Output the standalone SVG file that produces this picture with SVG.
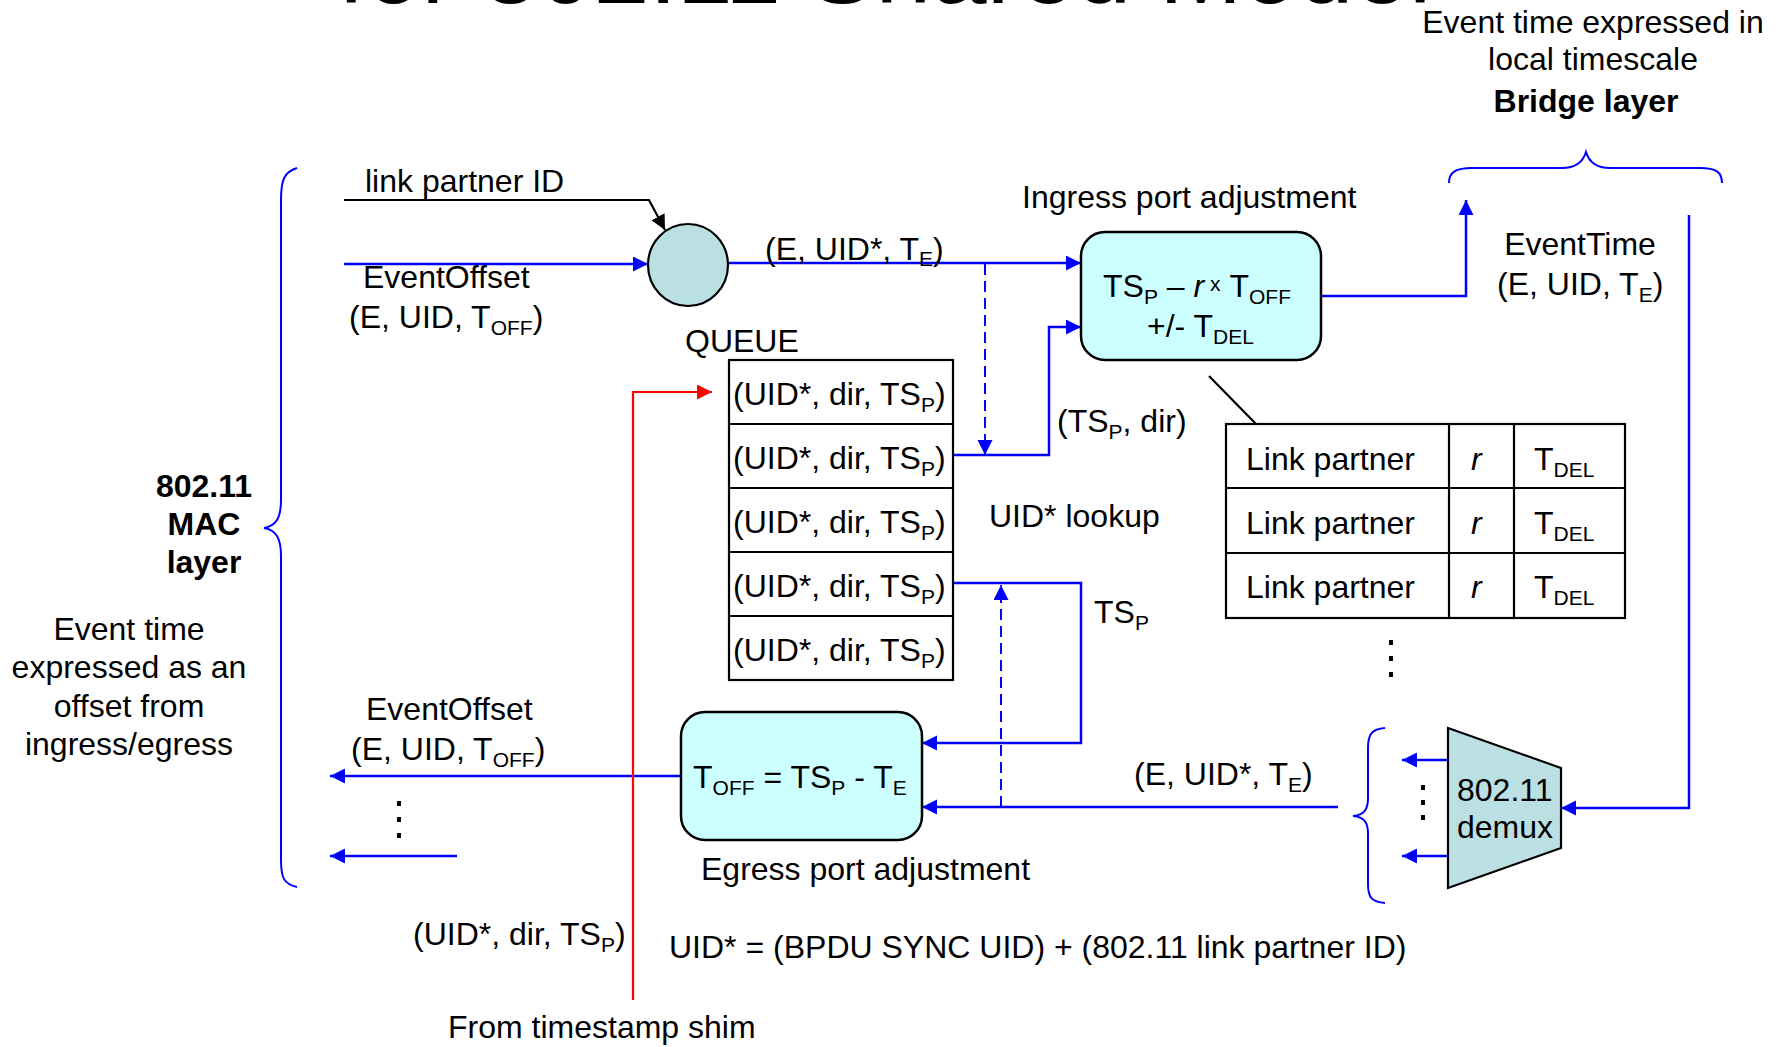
<svg xmlns="http://www.w3.org/2000/svg" width="1779" height="1047" viewBox="0 0 1779 1047">
  <style>
    text { font-family: "Liberation Sans", Arial, sans-serif; font-size: 32px; fill: #000; }
    .b { font-weight: bold; }
    .mid { text-anchor: middle; }
    .sub { font-size: 21px; }
    .title { font-size: 100px; }
    .box { fill: #CCFFFF; stroke: #000; stroke-width: 2.5; }
    .teal { fill: #BBE0E3; stroke: #000; stroke-width: 2.2; }
    .cell { fill: none; stroke: #000; stroke-width: 2.2; }
    .blue { fill: none; stroke: #0000FF; stroke-width: 2.5; }
    .dash { fill: none; stroke: #0000FF; stroke-width: 2; stroke-dasharray: 11 6; }
    .red { fill: none; stroke: #FF0000; stroke-width: 2.2; }
    .black { fill: none; stroke: #000; stroke-width: 2.2; }
    .brace { fill: none; stroke: #0000FF; stroke-width: 2; }
  </style>
  <defs>
    <marker id="ab" markerUnits="userSpaceOnUse" markerWidth="16" markerHeight="16" refX="15" refY="7.5" orient="auto">
      <path d="M0,0 L15,7.5 L0,15 z" fill="#0000FF"/>
    </marker>
    <marker id="ak" markerUnits="userSpaceOnUse" markerWidth="16" markerHeight="16" refX="15" refY="7.5" orient="auto">
      <path d="M0,0 L15,7.5 L0,15 z" fill="#000"/>
    </marker>
    <marker id="ar" markerUnits="userSpaceOnUse" markerWidth="16" markerHeight="16" refX="15" refY="7.5" orient="auto">
      <path d="M0,0 L15,7.5 L0,15 z" fill="#FF0000"/>
    </marker>
  </defs>

  <rect width="1779" height="1047" fill="#fff"/>

  <!-- page heading, running off the top edge -->
  <text class="title" x="338" y="2.5">for 802.11 Shared Model</text>

  <!-- side braces and layer captions -->
  <g id="mac-layer">
    <path class="brace" d="M297,168 C284,172 281,180 281,200 L281,500 C281,518 276,526 264,528 C276,530 281,538 281,556 L281,860 C281,878 284,884 297,887"/>
    <text class="b mid" x="204" y="497">802.11</text>
    <text class="b mid" x="204" y="535">MAC</text>
    <text class="b mid" x="204" y="573">layer</text>
    <text class="mid" x="129" y="640">Event time</text>
    <text class="mid" x="129" y="678">expressed as an</text>
    <text class="mid" x="129" y="717">offset from</text>
    <text class="mid" x="129" y="755">ingress/egress</text>
  </g>

  <g id="bridge-layer">
    <path class="brace" d="M1449,183 C1449,172 1456,168 1472,168 L1562,168 C1576,168 1583,162 1586,152 C1589,162 1596,168 1610,168 L1700,168 C1716,168 1722,172 1722,183"/>
    <text class="mid" x="1593" y="33">Event time expressed in</text>
    <text class="mid" x="1593" y="70">local timescale</text>
    <text class="b mid" x="1586" y="112">Bridge layer</text>
  </g>

  <g id="demux-brace">
    <path class="brace" d="M1385,728 C1372,729 1368,734 1368,748 L1368,798 C1368,810 1364,815 1353,816 C1364,817 1368,822 1368,834 L1368,884 C1368,898 1372,902 1385,903"/>
  </g>

  <!-- connectors -->
  <g id="connectors">
    <polyline class="black" points="344,200 649,200 665,230" marker-end="url(#ak)"/>
    <line class="blue" x1="344" y1="264" x2="648" y2="264" marker-end="url(#ab)"/>
    <line class="blue" x1="729" y1="263" x2="1081" y2="263" marker-end="url(#ab)"/>
    <line class="dash" x1="985" y1="264" x2="985" y2="455" marker-end="url(#ab)"/>
    <polyline class="blue" points="953,455 1049,455 1049,327 1081,327" marker-end="url(#ab)"/>
    <polyline class="blue" points="1321,296 1466,296 1466,200" marker-end="url(#ab)"/>
    <polyline class="blue" points="1689,215 1689,808 1561,808" marker-end="url(#ab)"/>
    <line class="blue" x1="1448" y1="760" x2="1402" y2="760" marker-end="url(#ab)"/>
    <line class="blue" x1="1448" y1="856" x2="1402" y2="856" marker-end="url(#ab)"/>
    <line class="blue" x1="1338" y1="807" x2="922" y2="807" marker-end="url(#ab)"/>
    <line class="dash" x1="1001" y1="807" x2="1001" y2="585" marker-end="url(#ab)"/>
    <polyline class="blue" points="953,583 1081,583 1081,743 922,743" marker-end="url(#ab)"/>
    <line class="blue" x1="681" y1="776" x2="330" y2="776" marker-end="url(#ab)"/>
    <line class="blue" x1="457" y1="856" x2="330" y2="856" marker-end="url(#ab)"/>
    <polyline class="red" points="633,1000 633,392 712,392" marker-end="url(#ar)"/>
    <line class="black" x1="1209" y1="376" x2="1256" y2="424" stroke-width="1.6"/>
  </g>

  <!-- combiner of link partner ID and event offset -->
  <g id="uid-combiner">
    <ellipse class="teal" cx="688" cy="265" rx="40" ry="41"/>
  </g>

  <g id="ingress-adjust">
    <rect class="box" x="1081" y="232" width="240" height="128" rx="24"/>
    <text x="1103" y="297">TS<tspan class="sub" dy="7">P</tspan><tspan dy="-7"> – </tspan><tspan font-style="italic">r</tspan><tspan class="sub" dy="-6"> x</tspan><tspan dy="6" dx="9">T</tspan><tspan class="sub" dy="7">OFF</tspan></text>
    <text x="1147" y="337">+/- T<tspan class="sub" dy="7">DEL</tspan></text>
    <text x="1022" y="208">Ingress port adjustment</text>
  </g>

  <g id="egress-adjust">
    <rect class="box" x="681" y="712" width="241" height="128" rx="24"/>
    <text x="693" y="788">T<tspan class="sub" dy="7">OFF</tspan><tspan dy="-7"> = TS</tspan><tspan class="sub" dy="7">P</tspan><tspan dy="-7"> - T</tspan><tspan class="sub" dy="7">E</tspan></text>
    <text x="701" y="880">Egress port adjustment</text>
  </g>

  <g id="queue">
    <text x="685" y="352">QUEUE</text>
    <rect class="cell" x="729" y="360" width="224" height="320"/>
    <line class="cell" x1="729" y1="424" x2="953" y2="424"/>
    <line class="cell" x1="729" y1="488" x2="953" y2="488"/>
    <line class="cell" x1="729" y1="552" x2="953" y2="552"/>
    <line class="cell" x1="729" y1="616" x2="953" y2="616"/>
    <text x="733" y="405">(UID*, dir, TS<tspan class="sub" dy="7">P</tspan><tspan dy="-7">)</tspan></text>
    <text x="733" y="469">(UID*, dir, TS<tspan class="sub" dy="7">P</tspan><tspan dy="-7">)</tspan></text>
    <text x="733" y="533">(UID*, dir, TS<tspan class="sub" dy="7">P</tspan><tspan dy="-7">)</tspan></text>
    <text x="733" y="597">(UID*, dir, TS<tspan class="sub" dy="7">P</tspan><tspan dy="-7">)</tspan></text>
    <text x="733" y="661">(UID*, dir, TS<tspan class="sub" dy="7">P</tspan><tspan dy="-7">)</tspan></text>
  </g>

  <g id="link-partner-table">
    <rect class="cell" x="1226" y="424" width="399" height="194"/>
    <line class="cell" x1="1226" y1="488" x2="1625" y2="488" stroke-width="4"/>
    <line class="cell" x1="1226" y1="553" x2="1625" y2="553" stroke-width="4"/>
    <line class="cell" x1="1449" y1="424" x2="1449" y2="618"/>
    <line class="cell" x1="1514" y1="424" x2="1514" y2="618"/>
    <text x="1246" y="470">Link partner</text>
    <text x="1246" y="534">Link partner</text>
    <text x="1246" y="598">Link partner</text>
    <text x="1471" y="470" font-style="italic">r</text>
    <text x="1471" y="534" font-style="italic">r</text>
    <text x="1471" y="598" font-style="italic">r</text>
    <text x="1534" y="470">T<tspan class="sub" dy="7">DEL</tspan></text>
    <text x="1534" y="534">T<tspan class="sub" dy="7">DEL</tspan></text>
    <text x="1534" y="598">T<tspan class="sub" dy="7">DEL</tspan></text>
    <g fill="#000">
      <rect x="1389" y="640" width="4" height="5"/>
      <rect x="1389" y="656" width="4" height="5"/>
      <rect x="1389" y="672" width="4" height="5"/>
    </g>
  </g>

  <g id="demux">
    <polygon class="teal" points="1448,728 1561,768 1561,848 1448,888"/>
    <text x="1457" y="801">802.11</text>
    <text x="1457" y="838">demux</text>
    <g fill="#000">
      <rect x="1421" y="785" width="4" height="5"/>
      <rect x="1421" y="800" width="4" height="5"/>
      <rect x="1421" y="815" width="4" height="5"/>
    </g>
  </g>

  <!-- connector labels -->
  <g id="labels">
    <text x="365" y="192">link partner ID</text>
    <text x="363" y="288">EventOffset</text>
    <text x="349" y="328">(E, UID, T<tspan class="sub" dy="7">OFF</tspan><tspan dy="-7">)</tspan></text>
    <text x="765" y="260">(E, UID*, T<tspan class="sub" dy="6">E</tspan><tspan dy="-6">)</tspan></text>
    <text x="1057" y="432">(TS<tspan class="sub" dy="7">P</tspan><tspan dy="-7">, dir)</tspan></text>
    <text x="989" y="527">UID* lookup</text>
    <text x="1094" y="623">TS<tspan class="sub" dy="7">P</tspan></text>
    <text class="mid" x="1580" y="255">EventTime</text>
    <text x="1497" y="295">(E, UID, T<tspan class="sub" dy="7">E</tspan><tspan dy="-7">)</tspan></text>
    <text x="366" y="720">EventOffset</text>
    <text x="351" y="760">(E, UID, T<tspan class="sub" dy="7">OFF</tspan><tspan dy="-7">)</tspan></text>
    <text x="1134" y="785">(E, UID*, T<tspan class="sub" dy="7">E</tspan><tspan dy="-7">)</tspan></text>
    <text x="413" y="945">(UID*, dir, TS<tspan class="sub" dy="7">P</tspan><tspan dy="-7">)</tspan></text>
    <text x="669" y="958">UID* = (BPDU SYNC UID) + (802.11 link partner ID)</text>
    <text x="448" y="1038">From timestamp shim</text>
    <g fill="#000">
      <rect x="397" y="801" width="4" height="5"/>
      <rect x="397" y="817" width="4" height="5"/>
      <rect x="397" y="833" width="4" height="5"/>
    </g>
  </g>
</svg>
